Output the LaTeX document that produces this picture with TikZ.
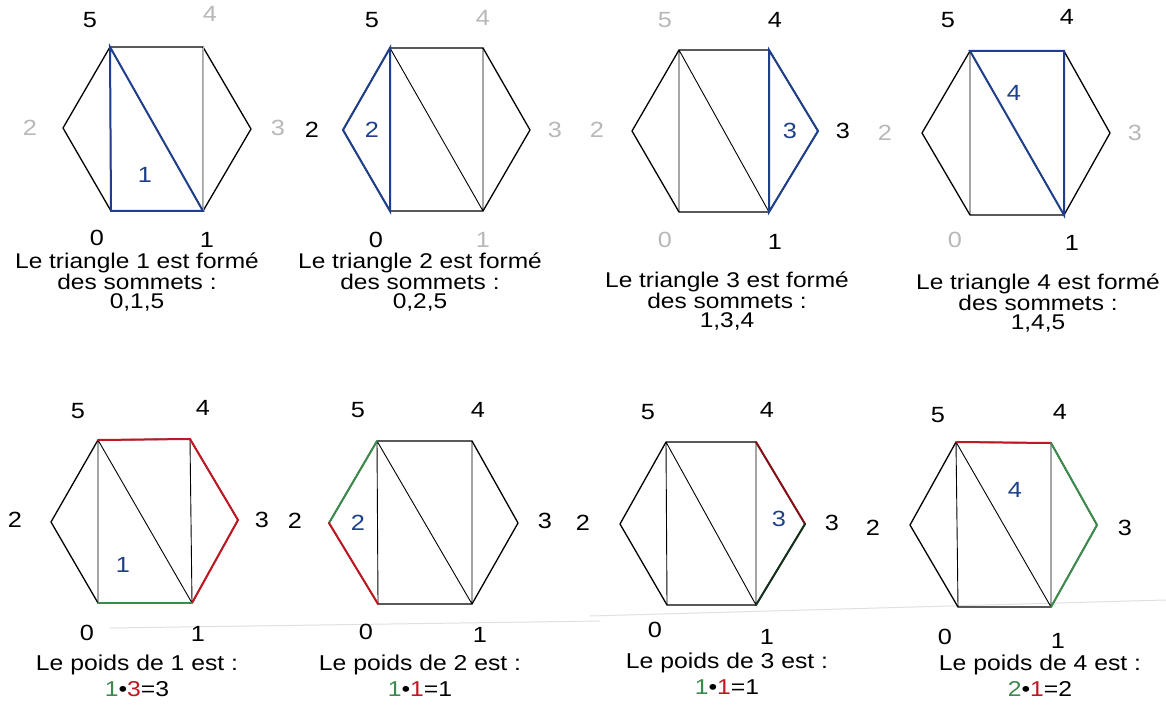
\documentclass[tikz,border=0pt]{standalone}
\usepackage{fontspec}
\setmainfont[FakeStretch=1.15]{Liberation Sans}
\definecolor{tblue}{HTML}{1F3F8A}
\definecolor{tred}{HTML}{C01822}
\definecolor{tgreen}{HTML}{3C8A4C}
\definecolor{lgray}{HTML}{B8B8B8}
\tikzset{
  edge/.style={draw=black, line width=1.3pt, line join=round},
  diag/.style={draw=black, line width=0.9pt},
  hi/.style={line width=2pt, line cap=round},
  vlab/.style={font=\fontsize{22}{22}\selectfont, inner sep=0pt},
  glab/.style={vlab, text=lgray},
  num/.style={font=\fontsize{22}{22}\selectfont, text=tblue, inner sep=0pt},
  captxt/.style={font=\fontsize{21.3}{19.5}\selectfont, align=center, inner sep=0pt},
  wcap/.style={font=\fontsize{21.5}{26}\selectfont, align=center, inner sep=0pt},
}
\newcommand\hexpts[7]{%
  \coordinate (#1-0) at (#2); \coordinate (#1-1) at (#3);
  \coordinate (#1-3) at (#4); \coordinate (#1-4) at (#5);
  \coordinate (#1-5) at (#6); \coordinate (#1-2) at (#7);}
\newcommand\hexbase[1]{%
  \draw[edge] (#1-0)--(#1-1)--(#1-3)--(#1-4)--(#1-5)--(#1-2)--cycle;
  \draw[diag] (#1-5)--(#1-0) (#1-5)--(#1-1) (#1-4)--(#1-1);}
\begin{document}
\begin{tikzpicture}[x=1pt,y=-1pt]
\useasboundingbox (0,0) rectangle (1166,711);
\fill[white] (0,0) rectangle (1166,711);
% faint scan lines
\draw[black!12, line width=1pt] (110,628) -- (600,621);
\draw[black!12, line width=1pt] (590,616) -- (1166,600);

% ---------- top row ----------
\hexpts{a}{111,211}{203,211}{251,129}{203,47}{110,47}{63,128}
\hexbase{a}
\draw[lgray, line width=1pt] (a-4)--(a-1);
\draw[tblue, hi] (a-5)--(a-0)--(a-1)--cycle;
\node[vlab] (a5) at (90,20) {5};
\node[glab] (a4) at (210,14) {4};
\node[glab] (a2) at (30,128) {2};
\node[glab] (a3) at (278,128) {3};
\node[vlab] (a0) at (97,238) {0};
\node[vlab] (a1) at (207,240) {1};
\node[num] (at) at (145,175) {1};
\node[captxt] (ac) at (137,282) {Le triangle 1 est formé\\des sommets :\\0,1,5};

\hexpts{b}{390,211}{483,211}{530,130}{483,48}{390,48}{343,130}
\hexbase{b}
\draw[tblue, hi] (b-5)--(b-2)--(b-0)--cycle;
\node[vlab] (b5) at (372,20) {5};
\node[glab] (b4) at (483,18) {4};
\node[vlab] (b2) at (312,130) {2};
\node[glab] (b3) at (555,130) {3};
\node[vlab] (b0) at (376,240) {0};
\node[glab] (b1) at (483,240) {1};
\node[num] (bt) at (372,130) {2};
\node[captxt] (bc) at (420,282) {Le triangle 2 est formé\\des sommets :\\0,2,5};

\hexpts{c}{679,212}{769,212}{818,131}{769,50}{679,50}{632,131}
\hexbase{c}
\draw[tblue, hi] (c-4)--(c-3)--(c-1)--cycle;
\node[glab] (c5) at (665,20) {5};
\node[vlab] (c4) at (775,20) {4};
\node[glab] (c2) at (597,130) {2};
\node[vlab] (c3) at (843,131) {3};
\node[glab] (c0) at (665,240) {0};
\node[vlab] (c1) at (775,242) {1};
\node[num] (ct) at (790,131) {3};
\node[captxt] (cc) at (727,301) {Le triangle 3 est formé\\des sommets :\\1,3,4};

\hexpts{d}{970,215}{1064,215}{1110,133}{1064,51}{970,51}{922,133}
\hexbase{d}
\draw[tblue, hi] (d-5)--(d-4)--(d-1)--cycle;
\node[vlab] (d5) at (948,20) {5};
\node[vlab] (d4) at (1067,17) {4};
\node[glab] (d2) at (885,133) {2};
\node[glab] (d3) at (1135,133) {3};
\node[glab] (d0) at (955,240) {0};
\node[vlab] (d1) at (1072,243) {1};
\node[num] (dt) at (1014,93) {4};
\node[captxt] (dc) at (1038,303) {Le triangle 4 est formé\\des sommets :\\1,4,5};

% ---------- bottom row ----------
\hexpts{e}{98,603}{192,603}{238,520}{190,439}{98,440}{51,522}
\hexbase{e}
\draw[tred, hi] (e-5)--(e-4)--(e-3)--(e-1);
\draw[tgreen, hi] (e-0)--(e-1);
\node[vlab] (e5) at (78,411) {5};
\node[vlab] (e4) at (203,408) {4};
\node[vlab] (e2) at (15,520) {2};
\node[vlab] (e3) at (262,520) {3};
\node[vlab] (e0) at (87,633) {0};
\node[vlab] (e1) at (198,634) {1};
\node[num] (et) at (123,565) {1};
\node[wcap] (ec) at (137,676) {Le poids de 1 est :\\\textcolor{tgreen}{1}•\textcolor{tred}{3}=3};

\hexpts{f}{378,604}{472,604}{518,523}{472,441}{377,441}{329,523}
\hexbase{f}
\draw[tgreen, hi] (f-5)--(f-2);
\draw[tred, hi] (f-2)--(f-0);
\node[vlab] (f5) at (358,410) {5};
\node[vlab] (f4) at (478,410) {4};
\node[vlab] (f2) at (295,521) {2};
\node[vlab] (f3) at (545,521) {3};
\node[vlab] (f0) at (366,632) {0};
\node[vlab] (f1) at (480,635) {1};
\node[num] (ft) at (358,523) {2};
\node[wcap] (fc) at (420,676) {Le poids de 2 est :\\\textcolor{tgreen}{1}•\textcolor{tred}{1}=1};

\hexpts{g}{667,605}{756,605}{805,524}{756,442}{666,442}{620,524}
\hexbase{g}
\draw[tred!70!black, hi] (g-4)--(g-3);
\draw[tgreen!35!black, hi] (g-3)--(g-1);
\node[vlab] (g5) at (648,412) {5};
\node[vlab] (g4) at (767,410) {4};
\node[vlab] (g2) at (583,523) {2};
\node[vlab] (g3) at (832,523) {3};
\node[vlab] (g0) at (655,630) {0};
\node[vlab] (g1) at (767,637) {1};
\node[num] (gt) at (779,519) {3};
\node[wcap] (gc) at (727,674) {Le poids de 3 est :\\\textcolor{tgreen}{1}•\textcolor{tred}{1}=1};

\hexpts{h}{958,607}{1051,607}{1097,525}{1051,443}{956,442}{910,525}
\hexbase{h}
\draw[tred, hi] (h-5)--(h-4);
\draw[tgreen, hi] (h-4)--(h-3)--(h-1);
\node[vlab] (h5) at (938,415) {5};
\node[vlab] (h4) at (1060,412) {4};
\node[vlab] (h2) at (873,528) {2};
\node[vlab] (h3) at (1125,528) {3};
\node[vlab] (h0) at (945,637) {0};
\node[vlab] (h1) at (1058,641) {1};
\node[num] (ht) at (1015,490) {4};
\node[wcap] (hc) at (1040,676) {Le poids de 4 est :\\\textcolor{tgreen}{2}•\textcolor{tred}{1}=2};
\end{tikzpicture}
\end{document}
